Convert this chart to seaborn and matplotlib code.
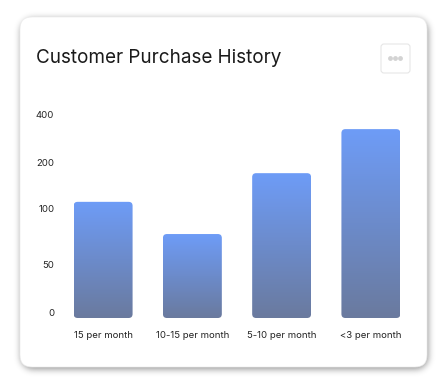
import numpy as np
import pandas as pd
import matplotlib
matplotlib.use("Agg")
import matplotlib.pyplot as plt
import seaborn as sns
from matplotlib.patches import FancyBboxPatch
from matplotlib.transforms import ScaledTranslation

# ---- data ----
categories = ["15 per month", "10-15 per month", "5-10 per month", "<3 per month"]
purchases = [128, 83, 189, 362]
y_ticks = [0, 50, 100, 200, 400]
y_tick_pos = [0, 47, 103, 150, 198]  # visual spacing of the uneven axis
title = "Customer Purchase History"

sns.set_theme(style="white")
plt.rcParams["font.family"] = ["Inter", "DejaVu Sans"]

W, H = 447, 386
fig = plt.figure(figsize=(W / 100, H / 100), dpi=100)
fig.patch.set_facecolor("white")

bg = fig.add_axes([0, 0, 1, 1], zorder=0)
bg.set_xlim(0, W)
bg.set_ylim(H, 0)
bg.axis("off")

# card with soft blurred shadow
cx0, cy0, cx1, cy1 = 20, 17, 427, 367
rad = 12
yy, xx = np.mgrid[0:H, 0:W] + 0.5
sx0, sy0, sx1, sy1 = cx0 + 1, cy0 + 2, cx1 + 1, cy1 + 2
dx = np.maximum(np.maximum(sx0 + rad - xx, xx - (sx1 - rad)), 0)
dy = np.maximum(np.maximum(sy0 + rad - yy, yy - (sy1 - rad)), 0)
mask = ((dx ** 2 + dy ** 2) <= rad ** 2).astype(float)
k = np.exp(-0.5 * (np.arange(-10, 11) / 3.5) ** 2)
k /= k.sum()
blur = np.apply_along_axis(lambda r: np.convolve(r, k, mode="same"), 1, mask)
blur = np.apply_along_axis(lambda c: np.convolve(c, k, mode="same"), 0, blur)
shadow = np.zeros((H, W, 4))
shadow[..., 3] = blur * 0.45
bg.imshow(shadow, extent=[0, W, H, 0], aspect="auto", interpolation="nearest", zorder=0)
card = FancyBboxPatch((cx0, cy0), cx1 - cx0, cy1 - cy0,
                      boxstyle=f"round,pad=0,rounding_size={rad}",
                      facecolor="white", edgecolor="#ececec", linewidth=0.5, zorder=1)
bg.add_patch(card)

# menu button
btn = FancyBboxPatch((381, 44), 29, 29, boxstyle="round,pad=0,rounding_size=3",
                     facecolor="white", edgecolor="#e6e6e6", linewidth=0.8, zorder=2)
bg.add_patch(btn)
for ddx in (-5, 0, 5):
    bg.add_patch(plt.Circle((395.5 + ddx, 58.5), 1.7, color="#d3d3d3", zorder=3))

bg.text(36, 58, title, fontsize=13.6, color="#1a1a1a", ha="left", va="center", zorder=3)

# main chart axes
def fwd(v):
    return np.interp(v, y_ticks, y_tick_pos)

def inv(p):
    return np.interp(p, y_tick_pos, y_ticks)

left_px, right_px, bottom_px, top_px = 58.5, 415.5, 318, 120
ax = fig.add_axes([left_px / W, (H - bottom_px) / H,
                   (right_px - left_px) / W, (bottom_px - top_px) / H], zorder=1)
ax.patch.set_alpha(0)
ax.set_yscale("function", functions=(fwd, inv))

df = pd.DataFrame({"category": categories, "purchases": purchases})
sns.barplot(data=df, x="category", y="purchases", ax=ax, width=0.66,
            color="#6E9BF5", saturation=1)
ax.set_xlim(-0.5, 3.5)
ax.set_ylim(0, 400)
ax.set_yticks(y_ticks)
ax.set_yticklabels([str(t) for t in y_ticks])
ax.set_xlabel("")
ax.set_ylabel("")
for s in ax.spines.values():
    s.set_visible(False)
ax.tick_params(axis="y", length=0, pad=3, labelsize=6.9, labelcolor="#222222")
ax.tick_params(axis="x", length=0, pad=9, labelsize=6.9, labelcolor="#222222")
off = ScaledTranslation(0, 6 / 100, fig.dpi_scale_trans)
for lab in ax.get_yticklabels():
    lab.set_transform(lab.get_transform() + off)

# rounded gradient bars drawn in pixel space
top_c = np.array(matplotlib.colors.to_rgb("#6E9CF7"))
bot_c = np.array(matplotlib.colors.to_rgb("#6A7A9E"))
grad = np.linspace(0, 1, 256)[:, None]
grad_img = top_c[None, None, :] * (1 - grad[:, :, None]) + bot_c[None, None, :] * grad[:, :, None]
for p in ax.patches:
    x0, w = p.get_x(), p.get_width()
    h = p.get_height()
    (px0, py0) = ax.transData.transform((x0, 0))
    (px1, py1) = ax.transData.transform((x0 + w, h))
    X0, X1 = px0, px1
    Y0, Y1 = H - py1, H - py0
    rp = FancyBboxPatch((X0, Y0), X1 - X0, Y1 - Y0,
                        boxstyle="round,pad=0,rounding_size=4",
                        facecolor="none", edgecolor="none")
    bg.add_patch(rp)
    im = bg.imshow(grad_img, extent=[X0, X1, Y1, Y0], aspect="auto",
                   interpolation="bilinear", zorder=3)
    im.set_clip_path(rp)
    p.set_visible(False)
bg.set_xlim(0, W)
bg.set_ylim(H, 0)

fig.savefig("out.png", dpi=100, facecolor="white")
